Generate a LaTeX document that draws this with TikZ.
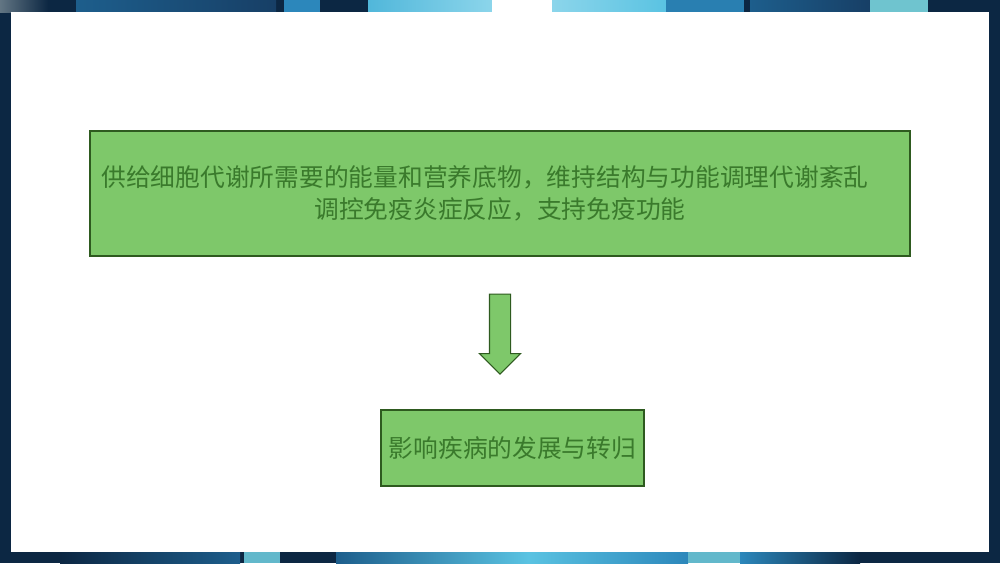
\documentclass[tikz,border=0pt]{standalone}
\usepackage{fontspec}
\newfontfamily\cjk{Noto Sans CJK SC}
\usepackage{tikz}
\usetikzlibrary{shapes.arrows, positioning}
\usetikzlibrary{calc}
\usepackage{xcolor}

\definecolor{boxgreen}{HTML}{7EC86A}
\definecolor{edgegreen}{HTML}{2E5A1F}
\definecolor{textgreen}{HTML}{3A7A2C}
\definecolor{navy}{HTML}{0C2743}
\definecolor{midblue}{HTML}{1D5E8C}
\definecolor{deepblue}{HTML}{173F66}
\definecolor{skyblue}{HTML}{2C87BB}
\definecolor{lightcyan}{HTML}{5AC3E2}
\definecolor{paleteal}{HTML}{6FC4CF}

\tikzset{
  greenbox/.style={draw=edgegreen, line width=0.8pt, fill=boxgreen, inner sep=0pt,
    text=textgreen, align=center, font={\cjk\fontsize{17.6pt}{22.7pt}\selectfont}},
  downarrow/.style={single arrow, draw=edgegreen, line width=0.8pt, fill=boxgreen,
    inner xsep=0pt, inner ysep=0.25cm, minimum height=2cm,
    single arrow head extend=0.25cm, rotate=-90}
}

\begin{document}
\begin{tikzpicture}
		\useasboundingbox (0,0) rectangle (25,-14.075);
		% frame
		\fill[navy] (0,0) rectangle (25,-14.075);
		\shade[left color=gray!70!midblue, right color=navy] (0,0) rectangle (1.2,-0.3);
		\shade[left color=midblue, right color=deepblue] (1.9,0) rectangle (6.9,-0.3);
		\fill[skyblue] (7.1,0) rectangle (8,-0.3);
		\shade[left color=lightcyan!80!skyblue, right color=lightcyan!70!white] (9.2,0) rectangle (12.3,-0.3);
		\fill[white] (12.3,0) rectangle (13.8,-0.3);
		\shade[left color=lightcyan!70!white, right color=lightcyan] (13.8,0) rectangle (16.65,-0.3);
		\fill[skyblue!80!midblue] (16.65,0) rectangle (18.6,-0.3);
		\shade[left color=midblue, right color=deepblue] (18.75,0) rectangle (21.75,-0.3);
		\fill[paleteal] (21.75,0) rectangle (23.2,-0.3);
		\shade[left color=navy, right color=midblue] (1.5,-13.8) rectangle (6,-14.075);
		\fill[paleteal!80!skyblue] (6.1,-13.8) rectangle (7,-14.075);
		\shade[left color=midblue, right color=lightcyan] (8.4,-13.8) rectangle (13.2,-14.075);
		\shade[left color=lightcyan, right color=skyblue] (13.2,-13.8) rectangle (17.2,-14.075);
		\fill[paleteal!80!skyblue] (17.2,-13.8) rectangle (18.5,-14.075);
		\shade[left color=skyblue, right color=navy] (18.5,-13.8) rectangle (21.5,-14.075);
		\fill[white] (0.275,-0.3) rectangle (24.725,-13.8);

		% boxes
		\draw (12.5cm,-4.8375cm) node[greenbox, minimum width=20.5cm, minimum height=3.125cm] (supply)
			{供给细胞代谢所需要的能量和营养底物，维持结构与功能调理代谢紊乱\hspace*{0.75cm}\\调控免疫炎症反应，支持免疫功能}
		(12.8125cm,-11.2cm) node[greenbox, minimum width=6.575cm, minimum height=1.9cm] (outcome)
			{影响疾病的发展与转归};

		\node[downarrow, anchor=tail] (arr) at ($(supply.south)+(0,-0.925cm)$) {};
	\end{tikzpicture}
\end{document}
